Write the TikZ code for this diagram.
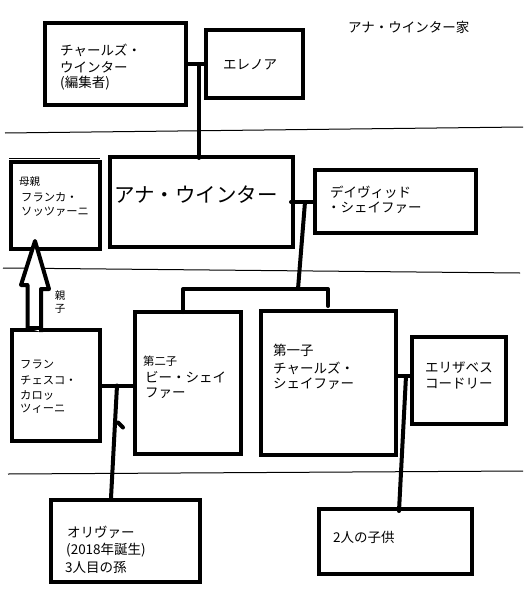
\documentclass[tikz,border=0pt]{standalone}
\usepackage{fontspec}
\newfontfamily\jp{Noto Sans CJK JP}
\usetikzlibrary{calc}
\tikzset{
  box/.style={draw=black, line width=4pt, inner sep=0pt},
  conn/.style={draw=black, line width=4pt, line cap=round, line join=round},
  sep/.style={draw=black, line width=1pt},
  hollow/.style={draw=black, fill=white, line width=4pt, line join=round},
  txt/.style={anchor=west, inner sep=0pt, font=\jp\fontsize{13.5pt}{16pt}\selectfont},
  txts/.style={anchor=west, inner sep=0pt, font=\jp\fontsize{11.3pt}{14pt}\selectfont},
  txtxs/.style={anchor=west, inner sep=0pt, font=\jp\fontsize{10.5pt}{12pt}\selectfont},
  txtbig/.style={anchor=west, inner sep=0pt, font=\jp\fontsize{20.5pt}{24pt}\selectfont},
}
\begin{document}
\begin{tikzpicture}[x=1pt, y=-1pt]
\useasboundingbox[fill=white] (0,0) rectangle (523,610);

% separator lines
\draw[sep] (5,133) -- (523,127);
\draw[sep] (9,158) -- (100,158);
\draw[sep] (3,268) -- (520,273);
\draw[sep] (8,474) -- (523,471);

% title
\node[txt] (title) at (348,27) {アナ・ウインター家};

% boxes
\node[box, minimum width=141pt, minimum height=82pt] (cw) at (115.5,64) {};
\node[box, minimum width=97pt, minimum height=68pt] (el) at (254.5,64) {};
\node[box, minimum width=183pt, minimum height=90pt] (anna) at (201.5,202) {};
\node[box, minimum width=89pt, minimum height=87pt] (mom) at (55.5,205.5) {};
\node[box, minimum width=161pt, minimum height=63pt] (dav) at (395.5,201.5) {};
\node[box, minimum width=88pt, minimum height=111pt] (fra) at (56,385.5) {};
\node[box, minimum width=106pt, minimum height=142pt] (bee) at (188,383) {};
\node[box, minimum width=135pt, minimum height=144pt] (chs) at (328.5,383) {};
\node[box, minimum width=94pt, minimum height=87pt] (eli) at (459,380.5) {};
\node[box, minimum width=149pt, minimum height=82pt] (oli) at (125.5,541) {};
\node[box, minimum width=153pt, minimum height=65pt] (kid) at (395.5,541.5) {};

% hollow arrow (parent-child)
\draw[hollow] ($(fra.north west)+(17.5,0)$) -- ++(0,-43) -- ++(-6.5,0)
  -- ($(mom.south west)+(26,-10)$) -- ++(14,48) -- ++(-8,0) -- ++(0,43);
\fill[black] ($(fra.north west)+(17.5,-2)$) rectangle ($(fra.north west)+(31,2)$);
\node[txtxs, anchor=center] (oyako1) at (60,296) {親};
\node[txtxs, anchor=center] (oyako2) at (60,309) {子};

% texts
\node[txt] (t_cw1) at (60,50) {チャールズ・};
\node[txt] (t_cw2) at (60,67) {ウインター};
\node[txt] (t_cw3) at (60,83) {(編集者)};
\node[txt] (t_el) at (223,65) {エレノア};
\node[txtbig] (t_anna) at (114,195) {アナ・ウインター};
\node[txtxs] (t_mom1) at (19,182) {母親};
\node[txts] (t_mom2) at (21,197) {フランカ・};
\node[txts] (t_mom3) at (21,212) {ソッツァーニ};
\node[txt] (t_dav1) at (330,192) {デイヴィッド};
\node[txt] (t_dav2) at (327,208) {・シェイファー};
\node[txts] (t_fra1) at (20,365) {フラン};
\node[txts] (t_fra2) at (20,380) {チェスコ・};
\node[txts] (t_fra3) at (20,395) {カロッ};
\node[txts] (t_fra4) at (20,409) {ツィーニ};
\node[txts] (t_bee1) at (143,361) {第二子};
\node[txt] (t_bee2) at (145,377) {ビー・シェイ};
\node[txt] (t_bee3) at (145,393) {ファー};
\node[txt] (t_chs1) at (273,350) {第一子};
\node[txt] (t_chs2) at (273,368) {チャールズ・};
\node[txt] (t_chs3) at (273,384) {シェイファー};
\node[txt] (t_eli1) at (425,368) {エリザベス};
\node[txt] (t_eli2) at (425,384) {コードリー};
\node[txt] (t_oli1) at (67,532) {オリヴァー};
\node[txt] (t_oli2) at (66,550) {(2018年誕生)};
\node[txt] (t_oli3) at (65,567) {3人目の孫};
\node[txt] (t_kid) at (333,537) {2人の子供};

% connectors
\draw[conn] (cw.east) -- (el.west);
\coordinate (j1) at ($(cw.east)+(11,0)$);
\draw[conn] (j1) -- ($(j1 |- anna.north)+(0,3)$);

\draw[conn] ($(anna.east)+(-4,0)$) -- (anna.east -| dav.west);
\coordinate (j2) at ($(anna.east)+(10,0)$);
\coordinate (j3) at (298,289);
\draw[conn] (j2) -- (j3);
\draw[conn] ($(bee.north west)+(50,2)$) |- (j3) -| ($(chs.north west)+(69,-3)$);

\draw[conn] ($(fra.east)+(-2,0)$) -- (fra.east -| bee.west);
\coordinate (j4) at ($(fra.east)+(15,0)$);
\draw[conn] (j4) -- ($(oli.north west)+(62,0)$);
\draw[conn] ($(j4)+(1,37)$) -- ++(5,5);

\coordinate (j5) at ($(chs.north east)+(0,67)$);
\draw[conn] (j5) -- (j5 -| eli.west);
\coordinate (j6) at ($(j5)+(8,0)$);
\draw[conn] (j6) -- ($(kid.north west)+(82,4)$);
\end{tikzpicture}
\end{document}
